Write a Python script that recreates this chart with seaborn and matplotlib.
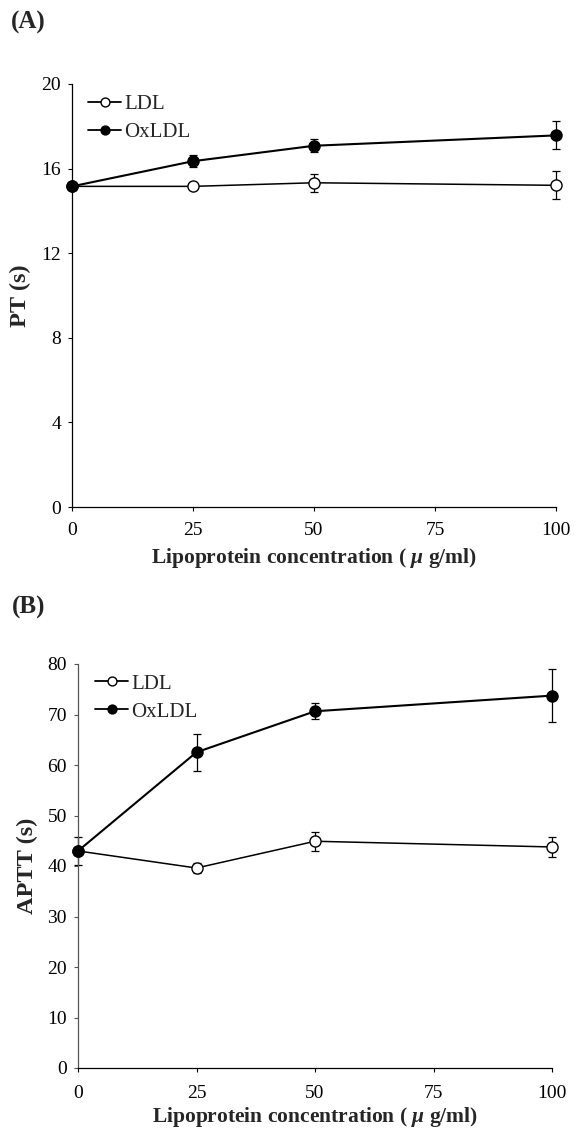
import numpy as np
import pandas as pd
import matplotlib
matplotlib.use("Agg")
import matplotlib.pyplot as plt
import seaborn as sns

# Lipoprotein concentrations (ug/ml)
conc = [0, 25, 50, 100]

# Prothrombin time (s), mean and SD
pt_ldl = [15.16, 15.16, 15.33, 15.21]
pt_ldl_sd = [0.15, 0.1, 0.42, 0.67]
pt_ox = [15.16, 16.35, 17.08, 17.57]
pt_ox_sd = [0.15, 0.27, 0.31, 0.66]

# Activated partial thromboplastin time (s), mean and SD
aptt_ldl = [42.98, 39.6, 44.9, 43.77]
aptt_ldl_sd = [2.7, 1.03, 1.9, 2.05]
aptt_ox = [42.98, 62.53, 70.64, 73.74]
aptt_ox_sd = [0.5, 3.7, 1.6, 5.3]

x_ticks = [0, 25, 50, 75, 100]
pt_ticks = [0, 4, 8, 12, 16, 20]
aptt_ticks = [0, 10, 20, 30, 40, 50, 60, 70, 80]

sns.set_theme(style="ticks")
plt.rcParams["font.family"] = ["Liberation Serif", "DejaVu Serif"]
plt.rcParams["mathtext.fontset"] = "custom"
plt.rcParams["mathtext.bf"] = "Liberation Serif:bold"
plt.rcParams["mathtext.it"] = "Liberation Serif:italic:bold"

W, H = 576, 1133
fig = plt.figure(figsize=(W / 100, H / 100), dpi=100)


def axes_px(left, top, right, bottom):
    return fig.add_axes([left / W, 1 - bottom / H, (right - left) / W, (bottom - top) / H])


ax_a = axes_px(72, 84, 556, 507)
ax_b = axes_px(78, 664, 552, 1068)


def draw_panel(ax, ldl, ldl_sd, ox, ox_sd, ylim, yticks, ylabel, legend_anchor,
               yaxis_color, xpad, xlabelpad):
    for vals, sd, face, name, lw in [
        (ldl, ldl_sd, "white", "LDL", 1.1),
        (ox, ox_sd, "black", "OxLDL", 1.5),
    ]:
        ax.errorbar(conc, vals, yerr=sd, fmt="none", ecolor="black",
                    elinewidth=0.9, capsize=3, capthick=0.9, zorder=2, clip_on=False)
        sns.lineplot(x=conc, y=vals, ax=ax, color="black", linewidth=lw,
                     marker="o", markersize=8, markerfacecolor=face,
                     markeredgecolor="black", markeredgewidth=1.0,
                     label=name, zorder=3, clip_on=False)
    ax.set_xlim(0, 100)
    ax.set_ylim(*ylim)
    ax.set_xticks(x_ticks)
    ax.set_yticks(yticks)
    ax.tick_params(direction="out", length=3, width=0.8, labelsize=14,
                   colors="black", pad=5)
    ax.tick_params(axis="x", pad=xpad)
    ax.tick_params(axis="y", color=yaxis_color)
    for s in ["top", "right"]:
        ax.spines[s].set_visible(False)
    ax.spines["bottom"].set_linewidth(0.9)
    ax.spines["bottom"].set_color("black")
    ax.spines["left"].set_linewidth(0.9)
    ax.spines["left"].set_color(yaxis_color)
    ax.set_xlabel("Lipoprotein concentration ( $\\mathit{\\mu}$ g/ml)",
                  fontsize=15.5, fontweight="bold", labelpad=xlabelpad)
    ax.set_ylabel(ylabel, fontsize=17.5, fontweight="bold", labelpad=7)
    leg = ax.legend(loc="upper left", bbox_to_anchor=legend_anchor, frameon=False,
                    fontsize=15, handlelength=1.6, handletextpad=0.15,
                    labelspacing=0.4, borderaxespad=0.0, borderpad=0.0,
                    markerscale=0.8)
    for h in leg.legend_handles:
        h.set_linewidth(1.3)


draw_panel(ax_a, pt_ldl, pt_ldl_sd, pt_ox, pt_ox_sd, (0, 20), pt_ticks, "PT (s)",
           (0.033, 0.975), "black", 8, 4.5)
draw_panel(ax_b, aptt_ldl, aptt_ldl_sd, aptt_ox, aptt_ox_sd, (0, 80), aptt_ticks,
           "APTT (s)", (0.036, 0.975), "#555555", 9, 2.5)

fig.text(11 / W, 1 - 22 / H, "(A)", fontsize=18, fontweight="bold", va="center")
fig.text(12 / W, 1 - 607 / H, "(B)", fontsize=18, fontweight="bold", va="center")

fig.savefig("out.png", dpi=100, facecolor="white")
